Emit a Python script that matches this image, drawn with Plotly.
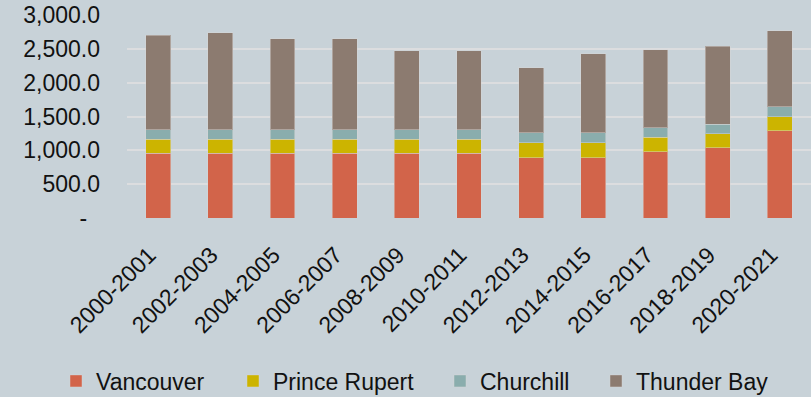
import plotly.graph_objects as go

# Two-year periods on the category axis
periods = ["2000-2001", "2002-2003", "2004-2005", "2006-2007", "2008-2009",
           "2010-2011", "2012-2013", "2014-2015", "2016-2017", "2018-2019",
           "2020-2021"]

# Stacked series values
vancouver = [956, 956, 956, 956, 956, 956, 893, 893, 981, 1035, 1291]
prince_rupert = [207, 207, 207, 207, 207, 207, 222, 222, 211, 212, 207]
churchill = [143, 143, 143, 143, 143, 143, 147, 147, 139, 138, 148]
thunder_bay = [1395, 1431, 1342, 1342, 1169, 1169, 957, 1164, 1154, 1154, 1120]

# Y axis ticks (accounting style: zero shown as a dash)
y_ticks = [0, 500, 1000, 1500, 2000, 2500, 3000]
y_tick_text = ["-\u00a0\u00a0", "500.0", "1,000.0", "1,500.0", "2,000.0",
               "2,500.0", "3,000.0"]

series = [
    ("Vancouver", vancouver, "#D2644A", "legend"),
    ("Prince Rupert", prince_rupert, "#CCB400", "legend2"),
    ("Churchill", churchill, "#8AADAD", "legend3"),
    ("Thunder Bay", thunder_bay, "#8C7B70", "legend4"),
]

FONT = "Liberation Sans, Arial, sans-serif"
BG = "#C8D2D8"
W, H = 811, 397

fig = go.Figure()
for name, vals, color, leg in series:
    fig.add_trace(go.Bar(
        x=periods, y=vals, name=name, legend=leg, showlegend=True,
        marker=dict(color=color, line=dict(color="rgba(215,215,215,0.45)", width=1)),
    ))

legend_common = dict(
    orientation="h", yanchor="middle", xanchor="left",
    xref="container", yref="container", y=1 - 381 / H,
    bgcolor="rgba(0,0,0,0)", font=dict(family=FONT, size=23, color="#111111"),
    itemclick=False, visible=True,
)

fig.update_layout(
    width=W, height=H,
    margin=dict(l=127, r=0, t=15, b=179),
    paper_bgcolor=BG, plot_bgcolor=BG,
    barmode="stack", bargap=0.6,
    showlegend=True,
    font=dict(family=FONT, size=23, color="#111111"),
    legend=dict(x=56 / W, **legend_common),
    legend2=dict(x=233 / W, **legend_common),
    legend3=dict(x=440 / W, **legend_common),
    legend4=dict(x=596 / W, **legend_common),
    xaxis=dict(
        tickangle=-45, showgrid=False, showline=False, zeroline=False,
        tickfont=dict(family=FONT, size=23, color="#111111"),
        ticklabelstandoff=18, ticklabelshift=-9,
    ),
    yaxis=dict(
        range=[0, 3000], tickvals=y_ticks, ticktext=y_tick_text,
        showgrid=True, gridcolor="#DCDDDF", gridwidth=2,
        zeroline=False, showline=False,
        tickfont=dict(family=FONT, size=23, color="#111111"),
        ticklabelstandoff=26,
    ),
)

fig.write_html("out.html")
